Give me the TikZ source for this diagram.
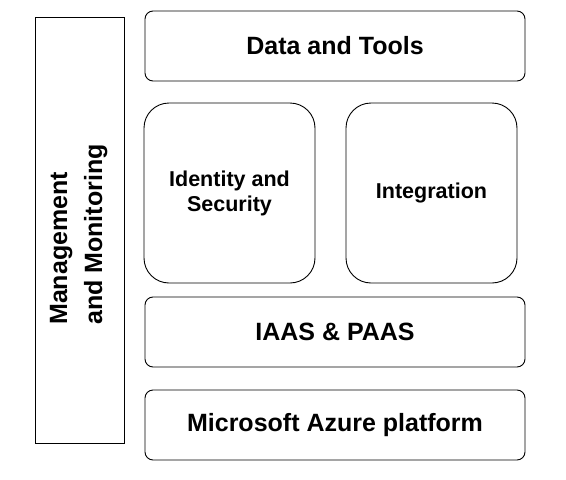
\documentclass[tikz,border=0pt]{standalone}
\usepackage{fontspec}
\setmainfont{Liberation Sans}
\begin{document}
\begin{tikzpicture}[x=1pt,y=-1pt,
  layer/.style={draw=black, line width=0.9pt, rounded corners=8pt, inner sep=0pt,
    minimum width=380pt, minimum height=70pt, font=\fontsize{25}{30}\selectfont\bfseries},
  square/.style={draw=black, line width=0.9pt, rounded corners=25pt, inner sep=0pt,
    minimum width=171pt, minimum height=180pt, align=center,
    font=\fontsize{21.5}{25}\selectfont\bfseries},
  side/.style={draw=black, line width=0.9pt, inner sep=0pt,
    minimum width=89pt, minimum height=426pt},
  vlabel/.style={rotate=90, align=left, inner sep=0pt,
    font=\fontsize{25}{35}\selectfont\bfseries}]
\useasboundingbox[fill=white] (0,0) rectangle (566,480);
\node[side] (mgmt) at (79.5,230) {};
\node[vlabel] (mgmtlabel) at (78.7,234.5) {Management\\and Monitoring};
\node[layer] (data) at (335,46) {Data and Tools};
\node[square] (ident) at (229.5,193) {Identity and\\Security};
\node[square] (integ) at (431.5,193) {Integration};
\node[layer] (iaas) at (335,332) {IAAS \& PAAS};
\node[layer] (azure) at (335,425) {Microsoft Azure platform};
\end{tikzpicture}
\end{document}
